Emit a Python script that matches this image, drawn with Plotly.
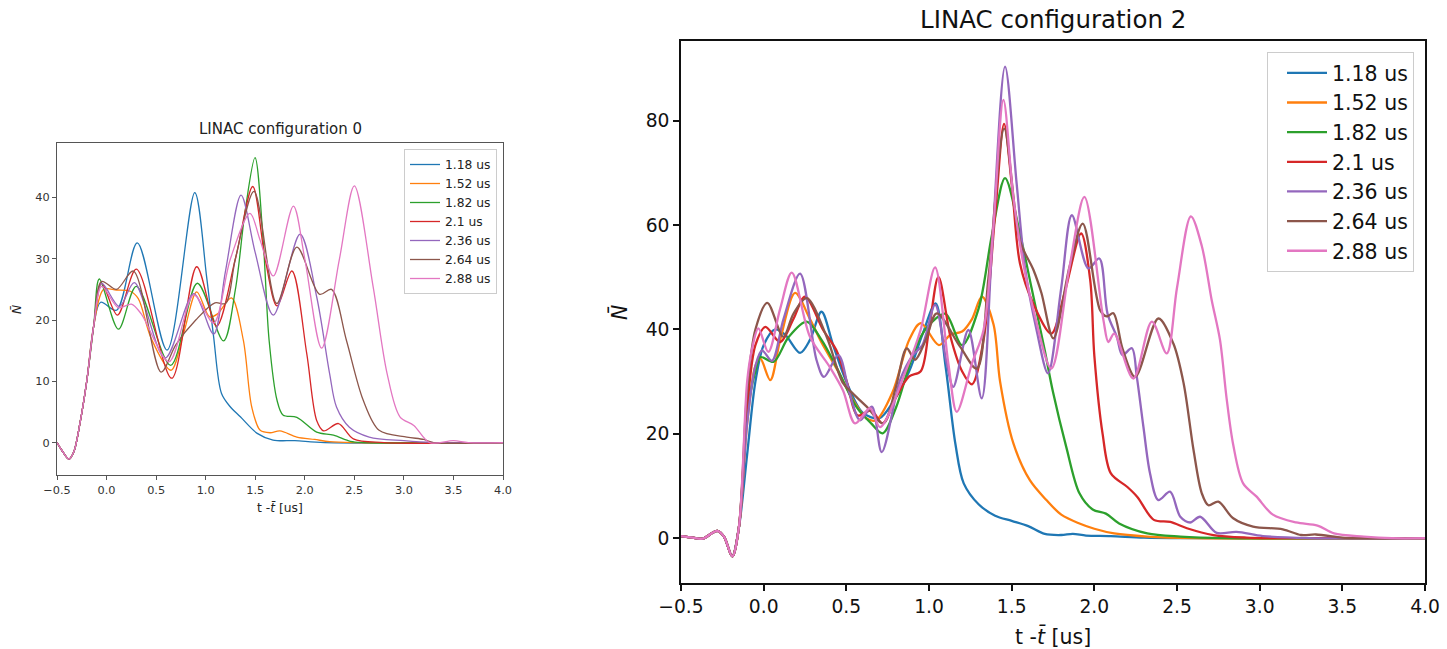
import plotly.graph_objects as go

LABELS = ["1.18 us", "1.52 us", "1.82 us", "2.1 us", "2.36 us", "2.64 us", "2.88 us"]
COLORS = ["#1f77b4", "#ff7f0e", "#2ca02c", "#d62728", "#9467bd", "#8c564b", "#e377c2"]
X_TICKS = [-0.5, 0.0, 0.5, 1.0, 1.5, 2.0, 2.5, 3.0, 3.5, 4.0]
X_TICK_TEXT = ["\u22120.5", "0.0", "0.5", "1.0", "1.5", "2.0", "2.5", "3.0", "3.5", "4.0"]
Y_TICKS_C0 = [0, 10, 20, 30, 40]
Y_TICKS_C2 = [0, 20, 40, 60, 80]

# ---------------- LINAC configuration 0 ----------------
C0_118_T = [-0.5, -0.45, -0.38, -0.33, -0.27, -0.2, -0.13, -0.06, 0.1, 0.31, 0.61, 0.89, 1.01, 1.08, 1.16, 1.25, 1.35, 1.52, 1.68, 1.9, 2.2, 4.0]
C0_118_N = [0, -1.3, -2.7, -1.5, 3, 10, 19, 22.9, 21.6, 32.6, 15.1, 40.8, 27, 17.3, 8, 5.8, 4.2, 1.5, 0.4, 0.3, 0, 0]

C0_152_T = [-0.5, -0.45, -0.38, -0.33, -0.27, -0.2, -0.13, -0.03, 0.1, 0.24, 0.32, 0.45, 0.65, 0.78, 0.91, 1.04, 1.12, 1.26, 1.38, 1.465, 1.55, 1.65, 1.75, 1.92, 2.1, 2.25, 2.5, 4.0]
C0_152_N = [0, -1.3, -2.7, -1.5, 3, 10, 19, 25, 24.9, 24.7, 23.5, 17, 11.8, 18, 24.6, 20.5, 21, 23.6, 16.7, 5.8, 2.0, 1.6, 1.9, 0.9, 0.5, 0.15, 0, 0]

C0_182_T = [-0.5, -0.45, -0.38, -0.33, -0.27, -0.2, -0.13, -0.073, 0.12, 0.3, 0.647, 0.916, 1.18, 1.3, 1.4, 1.498, 1.58, 1.64, 1.72, 1.78, 1.92, 2.12, 2.29, 2.46, 2.6, 4.0]
C0_182_N = [0, -1.3, -2.7, -1.5, 3, 10, 19, 26.7, 18.5, 25.5, 12.6, 26, 16.6, 25, 38, 46.5, 33, 16.7, 6.9, 4.5, 4.1, 1.7, 1.2, 0.2, 0, 0]

C0_210_T = [-0.5, -0.45, -0.38, -0.33, -0.27, -0.2, -0.13, -0.05, 0.11, 0.3, 0.657, 0.91, 1.11, 1.3, 1.475, 1.6, 1.72, 1.87, 2.02, 2.12, 2.19, 2.34, 2.49, 2.8, 4.0]
C0_210_N = [0, -1.3, -2.7, -1.5, 3, 10, 19, 26, 20.8, 28.3, 10.5, 28.7, 19.0, 30, 41.8, 30, 22.3, 28, 14.5, 3.6, 1.9, 3.1, 0.6, 0, 0]

C0_236_T = [-0.5, -0.45, -0.38, -0.33, -0.27, -0.2, -0.13, -0.05, 0.13, 0.28, 0.59, 0.88, 1.08, 1.2, 1.357, 1.5, 1.683, 1.952, 2.12, 2.25, 2.32, 2.45, 2.65, 3.0, 3.3, 4.0]
C0_236_N = [0, -1.3, -2.7, -1.5, 3, 10, 19, 26, 22.2, 26.1, 13.8, 24.3, 17.7, 28, 40.4, 31, 20.8, 34, 23.8, 11.3, 5.8, 2.5, 0.9, 0.3, 0, 0]

C0_264_T = [-0.5, -0.45, -0.38, -0.33, -0.27, -0.2, -0.13, -0.05, 0.1, 0.27, 0.55, 0.7, 0.9, 1.094, 1.2, 1.3, 1.488, 1.717, 1.92, 2.15, 2.27, 2.42, 2.59, 2.75, 3.03, 3.2, 3.3, 4.0]
C0_264_N = [0, -1.3, -2.7, -1.5, 3, 10, 19, 26.3, 25, 28, 11.5, 16, 20, 22.8, 22.7, 30, 41, 22.7, 31.9, 24.2, 25, 16.7, 6.9, 2.0, 0.9, 0.5, 0, 0]

C0_288_T = [-0.5, -0.45, -0.38, -0.33, -0.27, -0.2, -0.13, -0.05, 0.12, 0.25, 0.35, 0.63, 0.88, 1.08, 1.25, 1.447, 1.55, 1.683, 1.885, 2.0, 2.17, 2.35, 2.5, 2.69, 2.83, 2.96, 3.1, 3.26, 3.5, 3.65, 4.0]
C0_288_N = [0, -1.3, -2.7, -1.5, 3, 10, 19, 25.5, 22, 22.6, 21, 13.2, 24.1, 19.5, 30, 37.4, 33, 27.2, 38.6, 30, 15.4, 30, 41.9, 25.4, 11.3, 4.2, 2.8, 0, 0.3, 0, 0]

# ---------------- LINAC configuration 2 ----------------
C2_118_T = [-0.5, -0.43, -0.37, -0.28, -0.24, -0.19, -0.15, -0.1, -0.05, 0.0, 0.07, 0.13, 0.22, 0.28, 0.35, 0.42, 0.5, 0.6, 0.7, 0.78, 0.88, 0.96, 1.04, 1.1, 1.16, 1.21, 1.3, 1.4, 1.5, 1.6, 1.7, 1.8, 1.87, 1.95, 2.1, 2.3, 2.6, 4.0]
C2_118_N = [0.4, 0.1, -0.1, 1.4, 0.3, -3.5, 2, 16, 30, 37, 40, 39, 35.5, 38, 43.4, 37, 30, 24, 23, 26, 32, 39, 45, 33, 18, 10.5, 6.5, 4.3, 3.3, 2.3, 0.8, 0.6, 0.8, 0.5, 0.4, 0.1, 0, 0]

C2_152_T = [-0.5, -0.43, -0.37, -0.28, -0.24, -0.19, -0.15, -0.1, -0.05, -0.02, 0.04, 0.1, 0.19, 0.28, 0.35, 0.45, 0.55, 0.62, 0.68, 0.78, 0.88, 0.95, 1.06, 1.13, 1.2, 1.26, 1.32, 1.39, 1.43, 1.51, 1.61, 1.71, 1.8, 1.91, 2.0, 2.12, 2.32, 2.6, 4.0]
C2_152_N = [0.4, 0.1, -0.1, 1.4, 0.3, -3.5, 2, 22, 33, 34.4, 30.3, 38, 47, 42, 37.5, 32, 26, 23, 22.6, 28, 38, 41.2, 37, 39, 39.6, 42, 46.3, 41, 30, 18.2, 11.1, 7.3, 4.5, 2.8, 1.8, 0.9, 0.3, 0, 0]

C2_182_T = [-0.5, -0.43, -0.37, -0.28, -0.24, -0.19, -0.15, -0.1, -0.05, -0.02, 0.06, 0.15, 0.26, 0.35, 0.44, 0.56, 0.65, 0.72, 0.8, 0.88, 0.95, 1.02, 1.1, 1.2, 1.3, 1.38, 1.46, 1.55, 1.62, 1.7, 1.75, 1.83, 1.91, 1.99, 2.07, 2.15, 2.32, 2.52, 2.8, 4.0]
C2_182_N = [0.4, 0.1, -0.1, 1.4, 0.3, -3.5, 2, 24, 32, 34.7, 33.8, 38.5, 41.5, 38, 32.8, 25.2, 22, 20.1, 25, 33, 38.6, 41.5, 43, 37, 44, 58, 69, 58.4, 48, 36, 28, 17.5, 8.6, 5.5, 4.7, 2.8, 0.9, 0.3, 0, 0]

C2_210_T = [-0.5, -0.43, -0.37, -0.28, -0.24, -0.19, -0.15, -0.1, -0.05, 0.01, 0.1, 0.18, 0.25, 0.36, 0.44, 0.5, 0.57, 0.65, 0.72, 0.8, 0.88, 0.95, 1.0, 1.057, 1.13, 1.2, 1.26, 1.33, 1.4, 1.454, 1.5, 1.55, 1.63, 1.74, 1.82, 1.92, 1.975, 2.0, 2.05, 2.1, 2.2, 2.26, 2.36, 2.46, 2.56, 2.72, 2.92, 3.1, 4.0]
C2_210_N = [0.4, 0.1, -0.1, 1.4, 0.3, -3.5, 2, 25, 37, 40.5, 37.6, 42, 46.3, 39.9, 36, 30.3, 23.5, 24.5, 22, 27, 31, 32, 40, 50.1, 38.6, 32, 29.5, 38, 62, 79.4, 68, 52.7, 45, 39.2, 47, 58.4, 49.5, 35, 20, 12.4, 9.8, 7.9, 3.5, 3.1, 1.9, 0.6, 0.1, 0, 0]

C2_236_T = [-0.5, -0.43, -0.37, -0.28, -0.24, -0.19, -0.15, -0.1, -0.05, -0.01, 0.05, 0.12, 0.22, 0.32, 0.365, 0.452, 0.52, 0.583, 0.654, 0.714, 0.825, 0.9, 0.96, 1.037, 1.107, 1.147, 1.238, 1.319, 1.38, 1.46, 1.53, 1.58, 1.65, 1.72, 1.8, 1.864, 1.964, 2.03, 2.08, 2.136, 2.17, 2.227, 2.257, 2.297, 2.337, 2.387, 2.458, 2.52, 2.58, 2.64, 2.74, 2.86, 3.02, 3.3, 4.0]
C2_236_N = [0.4, 0.1, -0.1, 1.4, 0.3, -3.5, 2, 22, 33, 36, 34, 42, 50.7, 34.1, 30.9, 35.1, 27.7, 22.6, 25.2, 16.5, 30.3, 35, 37, 44.7, 33.5, 29, 39.9, 26.8, 55, 90.4, 68, 52, 40, 31.6, 48, 61.9, 51.7, 53.6, 43, 38.6, 35.1, 36.4, 30.9, 21.3, 12.4, 7.3, 8.9, 4.1, 3, 4.1, 1.0, 1.2, 0.4, 0, 0]

C2_264_T = [-0.5, -0.43, -0.37, -0.28, -0.24, -0.19, -0.15, -0.1, -0.05, 0.022, 0.119, 0.18, 0.26, 0.381, 0.48, 0.54, 0.623, 0.724, 0.8, 0.865, 0.916, 0.98, 1.047, 1.188, 1.289, 1.36, 1.455, 1.55, 1.632, 1.68, 1.752, 1.85, 1.93, 2.035, 2.075, 2.115, 2.17, 2.247, 2.387, 2.478, 2.54, 2.6, 2.65, 2.69, 2.75, 2.84, 2.96, 3.14, 3.25, 3.34, 3.5, 3.6, 4.0]
C2_264_N = [0.4, 0.1, -0.1, 1.4, 0.3, -3.5, 2, 28, 40, 45.1, 38.6, 43, 46, 38.6, 29.7, 27.7, 25.2, 22, 29, 36.4, 34.2, 38, 43.1, 36.7, 32.5, 50, 78.5, 57, 51.4, 47, 38.3, 52, 60.3, 43.7, 42.5, 43.1, 36.4, 30.9, 42.1, 37.3, 29.7, 16.9, 8.6, 6.3, 7.0, 3.8, 2.2, 1.7, 0.6, 0.7, 0.1, 0, 0]

C2_288_T = [-0.5, -0.43, -0.37, -0.28, -0.24, -0.19, -0.15, -0.1, -0.072, -0.032, 0.028, 0.1, 0.17, 0.28, 0.4, 0.48, 0.553, 0.643, 0.704, 0.865, 0.95, 1.037, 1.117, 1.168, 1.26, 1.33, 1.39, 1.45, 1.51, 1.57, 1.63, 1.74, 1.85, 1.94, 2.055, 2.085, 2.12, 2.236, 2.348, 2.438, 2.5, 2.584, 2.65, 2.71, 2.76, 2.8, 2.84, 2.9, 2.98, 3.08, 3.22, 3.35, 3.45, 3.63, 3.8, 4.0]
C2_288_N = [0.4, 0.1, -0.1, 1.4, 0.3, -3.5, 2, 30, 36, 40.2, 35.7, 44, 50.9, 38.6, 32.8, 28.3, 22, 24.9, 21.3, 32.5, 40, 51.9, 33.5, 24.2, 33.5, 39.9, 60, 84, 65.4, 52.7, 44, 32.5, 52, 65.4, 41.8, 37.6, 39.2, 30.6, 41.5, 35.4, 48, 61.7, 56, 45.6, 38, 26.8, 17.9, 10.5, 8.0, 4.5, 3.0, 2.4, 0.9, 0.3, 0, 0]

C0_SERIES = [(C0_118_T, C0_118_N), (C0_152_T, C0_152_N), (C0_182_T, C0_182_N), (C0_210_T, C0_210_N),
             (C0_236_T, C0_236_N), (C0_264_T, C0_264_N), (C0_288_T, C0_288_N)]
C2_SERIES = [(C2_118_T, C2_118_N), (C2_152_T, C2_152_N), (C2_182_T, C2_182_N), (C2_210_T, C2_210_N),
             (C2_236_T, C2_236_N), (C2_264_T, C2_264_N), (C2_288_T, C2_288_N)]

FONT = "DejaVu Sans"
W, H = 1447, 649

fig = go.Figure()
for i, (t, n) in enumerate(C0_SERIES):
    fig.add_trace(go.Scatter(x=t, y=n, mode="lines", name=LABELS[i],
                             line=dict(color=COLORS[i], width=1.3, shape="spline", smoothing=0.9),
                             xaxis="x", yaxis="y", legend="legend", legendgroup=f"a{i}"))
for i, (t, n) in enumerate(C2_SERIES):
    fig.add_trace(go.Scatter(x=t, y=n, mode="lines", name=LABELS[i],
                             line=dict(color=COLORS[i], width=2.3, shape="spline", smoothing=0.9),
                             xaxis="x2", yaxis="y2", legend="legend2", legendgroup=f"b{i}"))

def px_x(p):
    return p / W

def px_y(p):
    return 1 - p / H

axis_common = dict(showgrid=False, zeroline=False, showline=True, mirror=True, ticks="outside",
                   automargin=False)

fig.update_layout(
    width=W, height=H, autosize=False,
    margin=dict(l=0, r=0, t=0, b=0, pad=0),
    paper_bgcolor="white", plot_bgcolor="white",
    font=dict(family=FONT, color="#222"),
    xaxis=dict(domain=[px_x(57), px_x(503)], range=[-0.5, 4.0], anchor="y",
               tickvals=X_TICKS, ticktext=X_TICK_TEXT, tickfont=dict(size=11.3, color="#333"),
               linecolor="#555", linewidth=1.2, tickcolor="#555", ticklen=4, **axis_common),
    yaxis=dict(domain=[px_y(475), px_y(143)], range=[-5.3, 48.9], anchor="x",
               tickvals=Y_TICKS_C0, tickfont=dict(size=11.3, color="#333"),
               linecolor="#555", linewidth=1.2, tickcolor="#555", ticklen=4, **axis_common),
    xaxis2=dict(domain=[px_x(681), px_x(1425)], range=[-0.5, 4.0], anchor="y2",
                tickvals=X_TICKS, ticktext=X_TICK_TEXT, tickfont=dict(size=18.7, color="#111"),
                linecolor="#111", linewidth=1.6, tickcolor="#111", ticklen=6, tickwidth=1.5, **axis_common),
    yaxis2=dict(domain=[px_y(583), px_y(41)], range=[-8.6, 95.3], anchor="x2",
                tickvals=Y_TICKS_C2, tickfont=dict(size=18.7, color="#111"),
                linecolor="#111", linewidth=1.6, tickcolor="#111", ticklen=6, tickwidth=1.5, **axis_common),
    legend=dict(x=px_x(497), y=px_y(149), xanchor="right", yanchor="top",
                bgcolor="rgba(255,255,255,0.85)", bordercolor="#cccccc", borderwidth=1,
                font=dict(size=12.3, color="#222"), tracegroupgap=0, itemwidth=30),
    legend2=dict(x=px_x(1414), y=px_y(52), xanchor="right", yanchor="top",
                 bgcolor="rgba(255,255,255,0.85)", bordercolor="#cccccc", borderwidth=1,
                 font=dict(size=20.5, color="#111"), tracegroupgap=0, itemwidth=40, indentation=14),
    annotations=[
        dict(text="LINAC configuration 0", x=px_x(280), y=px_y(129), xref="paper", yref="paper",
             showarrow=False, font=dict(size=15, color="#222"), xanchor="center", yanchor="middle"),
        dict(text="LINAC configuration 2", x=px_x(1053), y=px_y(20), xref="paper", yref="paper",
             showarrow=False, font=dict(size=24.5, color="#111"), xanchor="center", yanchor="middle"),
        dict(text="t -<i>t\u0304</i> [us]", x=px_x(280), y=px_y(508), xref="paper", yref="paper",
             showarrow=False, font=dict(size=12.3, color="#222"), xanchor="center", yanchor="middle"),
        dict(text="t -<i>t\u0304</i> [us]", x=px_x(1053), y=px_y(636), xref="paper", yref="paper",
             showarrow=False, font=dict(size=20.5, color="#111"), xanchor="center", yanchor="middle"),
        dict(text="<i>N\u0304</i>", x=px_x(17), y=px_y(310), xref="paper", yref="paper", textangle=-90,
             showarrow=False, font=dict(size=12.3, color="#222"), xanchor="center", yanchor="middle"),
        dict(text="<i>N\u0304</i>", x=px_x(619), y=px_y(313), xref="paper", yref="paper", textangle=-90,
             showarrow=False, font=dict(size=20.5, color="#111"), xanchor="center", yanchor="middle"),
    ],
)

fig.write_html("out.html")
